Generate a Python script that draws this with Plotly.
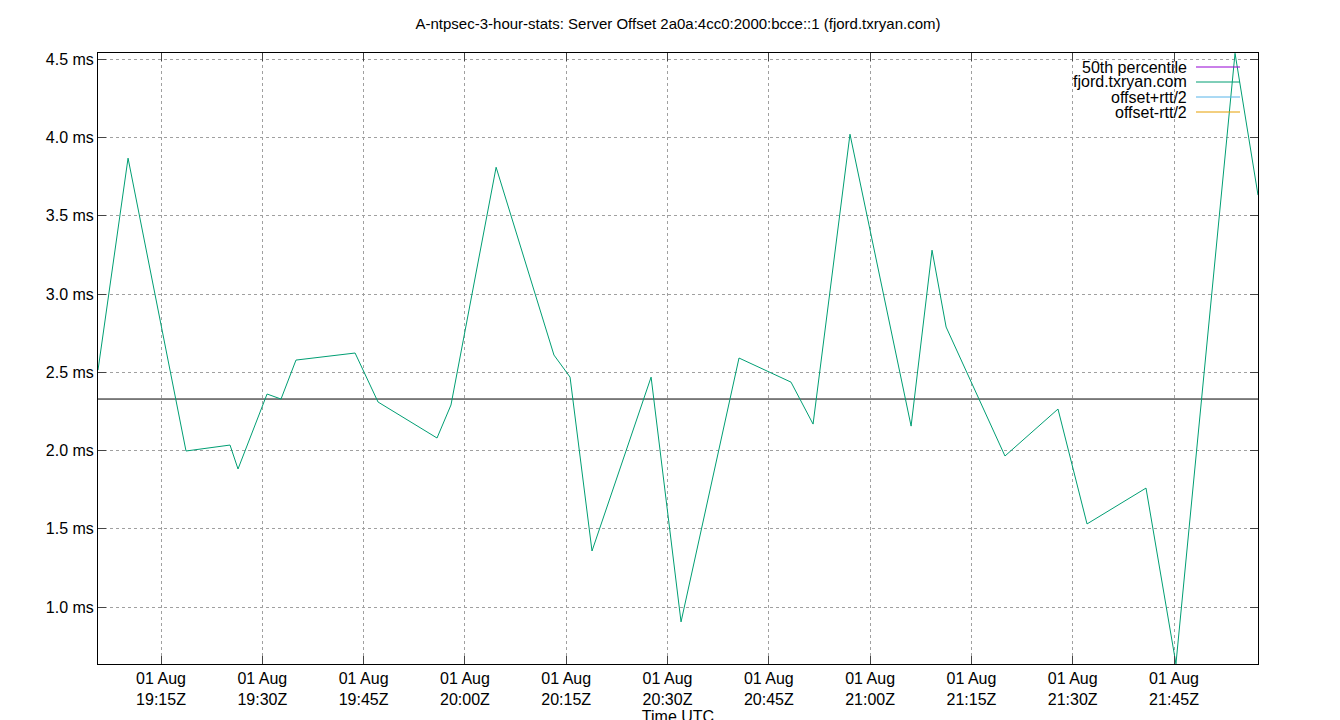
import plotly.graph_objects as go

times = ["19:05:40","19:10:07","19:18:42","19:25:13","19:26:24","19:30:42","19:32:46","19:34:59",
         "19:43:44","19:47:08","19:55:52","19:57:56","20:04:37","20:13:11","20:15:34","20:18:49",
         "20:27:34","20:32:00","20:40:35","20:48:17","20:51:33","20:57:01","21:06:04","21:09:10",
         "21:11:15","21:19:58","21:27:49","21:32:07","21:40:51","21:45:17","21:54:02","21:57:26"]
offset_ms = [2.514,3.868,1.997,2.035,1.882,2.361,2.329,2.578,2.623,2.310,2.080,2.291,3.810,2.610,
             2.469,1.358,2.469,0.905,2.591,2.437,2.169,4.021,2.156,3.280,2.789,1.965,2.265,1.531,
             1.760,0.637,4.538,3.632]
median_ms = 2.329
tick_times = ["19:15","19:30","19:45","20:00","20:15","20:30","20:45","21:00","21:15","21:30","21:45"]
y_ticks = [1.0,1.5,2.0,2.5,3.0,3.5,4.0,4.5]
legend_names = ["50th percentile","fjord.txryan.com","offset+rtt/2","offset-rtt/2"]
legend_colors = ["#9400d3","#009e73","#56b4e9","#e69f00"]

d = "2024-08-01 "
xs = [d + t for t in times]
x0, x1 = d + "19:05:40", d + "21:57:26"

fig = go.Figure()
fig.add_trace(go.Scatter(x=[x0, x1], y=[median_ms, median_ms], mode="lines",
                         line=dict(color="black", width=1), showlegend=False))
fig.add_trace(go.Scatter(x=xs, y=offset_ms, mode="lines",
                         line=dict(color="#009e73", width=1), showlegend=False))

for i, (n, c) in enumerate(zip(legend_names, legend_colors)):
    py = 59 + 15 * i
    yp = (656 - py) / 611
    fig.add_annotation(xref="paper", yref="paper", x=(1181 - 90) / 1160, y=yp, text=n,
                       showarrow=False, xanchor="right", yanchor="middle",
                       font=dict(size=16, color="black", family="Liberation Sans, Arial"))
    fig.add_shape(type="line", xref="paper", yref="paper", x0=(1188 - 90) / 1160,
                  x1=(1232 - 90) / 1160, y0=yp, y1=yp, line=dict(color=c, width=1))

fig.update_layout(
    width=1340, height=720, plot_bgcolor="white", paper_bgcolor="white",
    margin=dict(l=90, r=90, t=45, b=64, autoexpand=False),
    title=dict(text="A-ntpsec-3-hour-stats: Server Offset 2a0a:4cc0:2000:bcce::1 (fjord.txryan.com)",
               x=0.5, y=0.985, yanchor="top", font=dict(size=15, color="black")),
    font=dict(family="Liberation Sans, Arial", size=16, color="black"),
    xaxis=dict(range=[x0, x1], tickvals=[d + t for t in tick_times],
               ticktext=["01 Aug<br>" + t + "Z" for t in tick_times], automargin=False,
               showgrid=True, gridcolor="#a0a0a0", griddash="dot", gridwidth=1,
               showline=True, linecolor="black", mirror="ticks", ticks="inside", ticklen=8,
               zeroline=False, title=dict(text="Time UTC", standoff=2, font=dict(size=16))),
    yaxis=dict(range=[0.636, 4.54], tickvals=y_ticks, ticktext=[f"{v:.1f} ms" for v in y_ticks],
               automargin=False,
               showgrid=True, gridcolor="#a0a0a0", griddash="dot", gridwidth=1,
               showline=True, linecolor="black", mirror="ticks", ticks="inside", ticklen=8,
               zeroline=False),
)
fig.write_html("out.html")
